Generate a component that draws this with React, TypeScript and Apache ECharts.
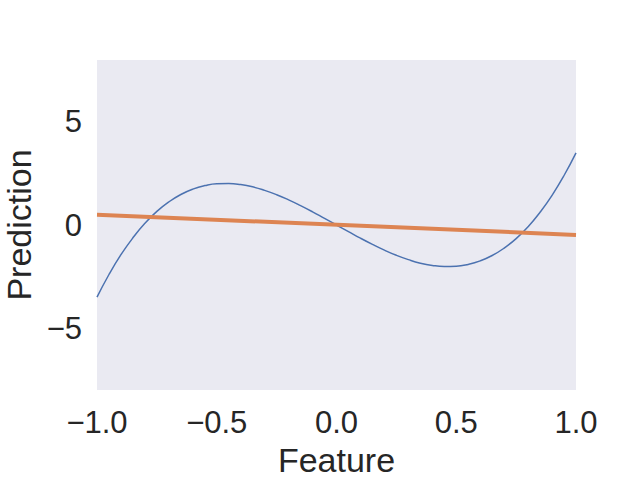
import React, { useEffect, useRef } from "react";
import * as echarts from "echarts";

const featureX = [-1.0, -0.95, -0.9, -0.85, -0.8, -0.75, -0.7, -0.65, -0.6, -0.55, -0.5, -0.45, -0.4, -0.35, -0.3, -0.25, -0.2, -0.15, -0.1, -0.05, 0.0,
  0.05, 0.1, 0.15, 0.2, 0.25, 0.3, 0.35, 0.4, 0.45, 0.5, 0.55, 0.6, 0.65, 0.7, 0.75, 0.8, 0.85, 0.9, 0.95, 1.0];
const curveY = [-3.5, -2.4, -1.44, -0.62, 0.08, 0.66, 1.12, 1.48, 1.74, 1.91, 2.0, 2.01, 1.96, 1.85, 1.68, 1.47, 1.22, 0.94, 0.64, 0.32, 0.0,
  -0.32, -0.64, -0.94, -1.22, -1.47, -1.68, -1.85, -1.96, -2.01, -2.0, -1.91, -1.74, -1.48, -1.12, -0.66, -0.08, 0.62, 1.44, 2.4, 3.5];
const lineX = [-1.0, 1.0];
const lineY = [0.5, -0.48];
const xTicks = [-1.0, -0.5, 0.0, 0.5, 1.0];
const yTicks = [-5, 0, 5];

const FONT = "'Liberation Sans', Arial, sans-serif";
const fmt = (v: number, d: number) => v.toFixed(d).replace("-", "\u2212");

export default function App() {
  const ref = useRef<HTMLDivElement>(null);
  useEffect(() => {
    const chart = echarts.init(ref.current!, null, { renderer: "svg" });
    chart.setOption({
      animation: false,
      backgroundColor: "#ffffff",
      textStyle: { fontFamily: FONT },
      grid: {
        left: 97, right: 64, top: 60, bottom: 90,
        backgroundColor: "#EAEAF2", show: true, borderWidth: 0,
        containLabel: false, outerBoundsMode: "none",
      },
      xAxis: {
        type: "value",
        min: -1,
        max: 1,
        name: "Feature",
        nameLocation: "middle",
        nameGap: 51,
        nameTextStyle: { fontSize: 34, color: "#262626", fontFamily: FONT },
        axisLine: { show: false },
        axisTick: { show: false },
        splitLine: { show: false },
        axisLabel: {
          customValues: xTicks,
          fontSize: 31,
          color: "#262626",
          margin: 17,
          fontFamily: FONT,
          formatter: (v: number) => fmt(v, 1),
        },
      },
      yAxis: {
        type: "value",
        min: -8,
        max: 8,
        name: "Prediction",
        nameLocation: "middle",
        nameGap: 59,
        nameTextStyle: { fontSize: 34, color: "#262626", fontFamily: FONT },
        axisLine: { show: false },
        axisTick: { show: false },
        splitLine: { show: false },
        axisLabel: {
          customValues: yTicks,
          fontSize: 31,
          color: "#262626",
          margin: 15,
          fontFamily: FONT,
          formatter: (v: number) => fmt(v, 0),
        },
      },
      series: [
        {
          type: "line",
          data: featureX.map((x, i) => [x, curveY[i]]),
          smooth: true,
          showSymbol: false,
          lineStyle: { color: "#4C72B0", width: 1.5 },
        },
        {
          type: "line",
          data: lineX.map((x, i) => [x, lineY[i]]),
          showSymbol: false,
          lineStyle: { color: "#DD8452", width: 4 },
        },
      ],
    });
    return () => chart.dispose();
  }, []);
  return <div ref={ref} style={{ width: 640, height: 480, position: "absolute", left: 0, top: 0 }} />;
}
